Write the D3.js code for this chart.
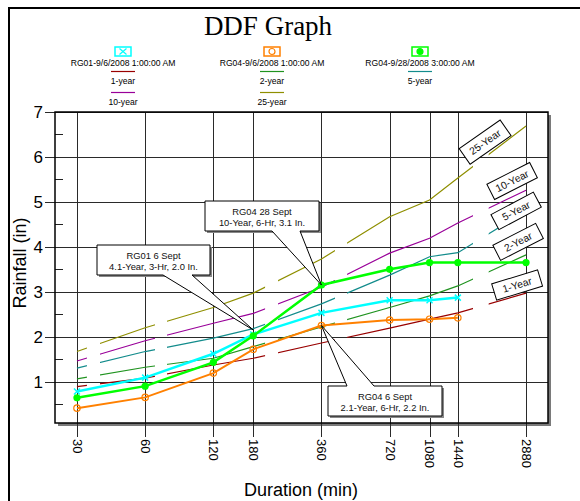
<!DOCTYPE html>
<html>
<head>
<meta charset="utf-8">
<script src="https://cdn.jsdelivr.net/npm/d3@7"></script>
<style>
  body { margin: 0; background: #fff; }
  svg { display: block; font-family: "Liberation Sans", Arial, sans-serif; }
</style>
</head>
<body>
<div id="container"></div>
<script>
// data

const durations = [30, 60, 120, 180, 360, 720, 1080, 1440, 2880];
const yTicks = [1, 2, 3, 4, 5, 6, 7];

// rainfall events
const rg01Sep6 = [0.78, 1.09, 1.62, 2.05, 2.53, 2.81, 2.81, 2.87];
const rg04Sep6 = [0.41, 0.65, 1.19, 1.72, 2.25, 2.37, 2.39, 2.42];
const rg04Sep28 = [0.64, 0.90, 1.43, 2.02, 3.15, 3.50, 3.65, 3.65, 3.65];

// return period curves (in)
const year1 = [0.89, 1.08, 1.37, 1.52, 1.86, 2.19, 2.39, 2.53, 2.97];
const year2 = [1.06, 1.32, 1.52, 1.78, 2.22, 2.65, 2.91, 3.13, 3.82];
const year5 = [1.30, 1.67, 1.97, 2.18, 2.73, 3.37, 3.78, 3.87, 4.80];
const year10 = [1.46, 1.91, 2.30, 2.52, 3.10, 3.86, 4.19, 4.53, 5.26];
const year25 = [1.67, 2.20, 2.65, 2.97, 3.73, 4.67, 5.04, 5.53, 6.69];

const eventNames = ["RG01-9/6/2008 1:00:00 AM", "RG04-9/6/2008 1:00:00 AM", "RG04-9/28/2008 3:00:00 AM"];
const periodNames = ["1-year", "2-year", "5-year", "10-year", "25-year"];
const periodLabels = ["1-Year", "2-Year", "5-Year", "10-Year", "25-Year"];

// variables

const width = 580;
const height = 501;
const plotL = 55, plotR = 548, plotT = 112, plotB = 423;

const periodColors = ["#990000", "#1f931f", "#138c8c", "#990099", "#8f8f00"];
// gaps in the dashed return-period lines (durations)
const gaps = [[33.2, 38.3], [66.3, 75.7], [203, 234], [413, 472], [1680, 1990]];

// scales

const xScale = d3.scaleLog()
  .domain([24, 3600])
  .range([plotL, plotR]);

const yScale = d3.scaleLinear()
  .domain([0.08, 7])
  .range([plotB, plotT]);

const svg = d3.select("#container")
  .append("svg")
  .attr("width", width)
  .attr("height", height);

// outer frame
svg.append("rect")
  .attr("x", 9).attr("y", 8)
  .attr("width", 640).attr("height", 640)
  .attr("fill", "#fff").attr("stroke", "#000").attr("stroke-width", 2);

// title
svg.append("text")
  .attr("x", 268).attr("y", 35)
  .attr("text-anchor", "middle")
  .style("font-family", "'Liberation Serif', 'Times New Roman', serif")
  .style("font-size", "27px")
  .text("DDF Graph");

// legend
const colX = [123, 272, 420];
const evColors = ["#00ffff", "#ff8000", "#00ff00"];
const leg = svg.append("g").style("font-size", "8.6px");

eventNames.forEach((name, i) => {
  const g = leg.append("g").attr("transform", `translate(${colX[i]},0)`);
  g.append("rect").attr("x", -8).attr("y", 47).attr("width", 16).attr("height", 9)
    .attr("fill", "#fff").attr("stroke", evColors[i]).attr("stroke-width", 1.5);
  if (i === 0) {
    g.append("path").attr("d", "M-3.5,48.5L3.5,54.5M-3.5,54.5L3.5,48.5")
      .attr("stroke", evColors[i]).attr("stroke-width", 1.2);
  } else {
    g.append("circle").attr("cx", 0).attr("cy", 51.5).attr("r", 3)
      .attr("fill", i === 2 ? evColors[i] : "none")
      .attr("stroke", evColors[i]).attr("stroke-width", 1.2);
  }
  g.append("text").attr("y", 65.5).attr("text-anchor", "middle").text(name);
});

periodNames.forEach((name, i) => {
  const col = i % 3, row = Math.floor(i / 3);
  const g = leg.append("g").attr("transform", `translate(${colX[col]},${row * 21})`);
  g.append("line").attr("x1", -12).attr("x2", 12).attr("y1", 71.5).attr("y2", 71.5)
    .attr("stroke", periodColors[i]).attr("stroke-width", 1.2);
  g.append("text").attr("y", 84).attr("text-anchor", "middle").text(name);
});

// plot background + shadow
svg.append("rect")
  .attr("x", plotL + 3).attr("y", plotT + 3)
  .attr("width", plotR - plotL).attr("height", plotB - plotT)
  .attr("fill", "#7a7a7a");
svg.append("rect")
  .attr("x", plotL).attr("y", plotT)
  .attr("width", plotR - plotL).attr("height", plotB - plotT)
  .attr("fill", "#fff");

// axes / grid

const yAxis = svg.append("g")
  .attr("transform", `translate(45,0)`)
  .call(d3.axisLeft(yScale)
    .tickValues(yTicks)
    .tickSizeInner(-(plotR - 45))
    .tickSizeOuter(0)
    .tickPadding(2)
    .tickFormat(d3.format("d")));
yAxis.select(".domain").remove();
yAxis.selectAll("line").attr("stroke", "#2a2a2a").attr("shape-rendering", "crispEdges");
yAxis.selectAll("text").style("font-size", "17px").attr("fill", "#000")
  .style("font-family", "'Liberation Sans', Arial, sans-serif");

// minor ticks
svg.append("g").selectAll("line")
  .data(d3.range(0.5, 7, 1))
  .join("line")
  .attr("x1", plotL).attr("x2", plotL + 8)
  .attr("y1", d => yScale(d)).attr("y2", d => yScale(d))
  .attr("stroke", "#222")
  .attr("shape-rendering", "crispEdges");

const xAxis = svg.append("g")
  .attr("transform", `translate(0,${plotT})`)
  .call(d3.axisBottom(xScale)
    .tickValues(durations)
    .tickSizeInner(plotB - plotT + 14)
    .tickSizeOuter(0)
    .tickFormat(d3.format("d")));
xAxis.select(".domain").remove();
xAxis.selectAll("line").attr("stroke", "#2a2a2a").attr("shape-rendering", "crispEdges");
xAxis.selectAll("text")
  .attr("transform", "rotate(90)")
  .attr("x", plotB - plotT + 16)
  .attr("y", 0)
  .attr("dy", "0.35em")
  .attr("fill", "#000")
  .style("text-anchor", "start")
  .style("font-size", "13px")
  .style("font-family", "'Liberation Sans', Arial, sans-serif");

// plot border
svg.append("rect")
  .attr("x", plotL).attr("y", plotT)
  .attr("width", plotR - plotL).attr("height", plotB - plotT)
  .attr("fill", "none").attr("stroke", "#000").attr("stroke-width", 1.5);

// axis titles
svg.append("text")
  .attr("transform", "translate(26,263) rotate(-90)")
  .attr("text-anchor", "middle")
  .style("font-size", "18px")
  .text("Rainfall (in)");
svg.append("text")
  .attr("x", 301).attr("y", 496)
  .attr("text-anchor", "middle")
  .style("font-size", "18px")
  .text("Duration (min)");

// dashed return-period lines (dashes made with a clip)
const dashStops = [30].concat(gaps.flat()).concat([2880]);
const clip = svg.append("clipPath").attr("id", "dashes");
for (let i = 0; i < dashStops.length; i += 2) {
  clip.append("rect")
    .attr("x", xScale(dashStops[i]) - 1)
    .attr("y", plotT)
    .attr("width", xScale(dashStops[i + 1]) - xScale(dashStops[i]) + (i === dashStops.length - 2 ? 2 : 1))
    .attr("height", plotB - plotT);
}

const line = d3.line()
  .x((d, i) => xScale(durations[i]))
  .y(d => yScale(d));

svg.append("g")
  .attr("clip-path", "url(#dashes)")
  .selectAll("path")
  .data([year1, year2, year5, year10, year25])
  .join("path")
  .attr("d", line)
  .attr("fill", "none")
  .attr("stroke", (d, i) => periodColors[i])
  .attr("stroke-width", 1.2);

// events
const events = [rg01Sep6, rg04Sep6, rg04Sep28];
const evWidths = [2.5, 2, 2.5];

events.forEach((vals, k) => {
  svg.append("path")
    .datum(vals)
    .attr("d", line)
    .attr("fill", "none")
    .attr("stroke", evColors[k])
    .attr("stroke-width", evWidths[k]);
  const pts = svg.append("g").selectAll("g")
    .data(vals)
    .join("g")
    .attr("transform", (d, i) => `translate(${xScale(durations[i])},${yScale(d)})`);
  if (k === 0) {
    pts.append("path").attr("d", "M-3,-3L3,3M-3,3L3,-3")
      .attr("stroke", evColors[k]).attr("stroke-width", 1.5);
  } else if (k === 1) {
    pts.append("circle").attr("r", 3.2).attr("fill", "none")
      .attr("stroke", evColors[k]).attr("stroke-width", 1.2);
  } else {
    pts.append("circle").attr("r", 3.6).attr("fill", evColors[k]);
  }
});

// return period labels
const periodAnchors = [[2630, 3.15, -17], [2657, 4.11, -27], [2604, 4.80, -28], [2500, 5.465, -27], [1900, 6.33, -35]];
periodLabels.forEach((lab, i) => {
  const [dur, v, ang] = periodAnchors[i];
  const g = svg.append("g")
    .attr("transform", `translate(${xScale(dur)},${yScale(v)}) rotate(${ang})`);
  const w = i === 4 ? 50 : 48, h = i === 4 ? 19 : 17;
  g.append("rect").attr("x", -w / 2).attr("y", -h / 2).attr("width", w).attr("height", h)
    .attr("fill", "#fff").attr("stroke", "#000").attr("stroke-width", 1);
  g.append("text").attr("text-anchor", "middle").attr("dy", "0.35em")
    .style("font-size", "10.3px").attr("fill", "#111").text(lab);
});

// callouts
const callouts = [
  { lines: ["RG01 6 Sept", "4.1-Year, 3-Hr, 2.0 In."], box: [97, 245, 113, 30], base: [163, 192], tip: [180, 2.15], below: true },
  { lines: ["RG04 28 Sept", "10-Year, 6-Hr, 3.1 In."], box: [205, 201, 114, 30], base: [272, 300], tip: [360, 3.15], below: true },
  { lines: ["RG04 6 Sept", "2.1-Year, 6-Hr, 2.2 In."], box: [328, 386, 114, 30], base: [347, 374], tip: [360, 2.25], below: false }
];

callouts.forEach(c => {
  const [bx, by, bw, bh] = c.box;
  const tx = xScale(c.tip[0]), ty = yScale(c.tip[1]);
  svg.append("rect").attr("x", bx + 2).attr("y", by + 2).attr("width", bw).attr("height", bh)
    .attr("fill", "#888");
  let pts;
  if (c.below) {
    pts = [[bx, by], [bx + bw, by], [bx + bw, by + bh], [c.base[1], by + bh], [tx, ty], [c.base[0], by + bh], [bx, by + bh]];
  } else {
    pts = [[bx, by], [c.base[0], by], [tx, ty], [c.base[1], by], [bx + bw, by], [bx + bw, by + bh], [bx, by + bh]];
  }
  svg.append("path")
    .attr("d", "M" + pts.map(p => p.join(",")).join("L") + "Z")
    .attr("fill", "#fff").attr("stroke", "#000").attr("stroke-width", 1);
  c.lines.forEach((t, j) => {
    svg.append("text")
      .attr("x", bx + bw / 2).attr("y", by + 13.5 + j * 11)
      .attr("text-anchor", "middle")
      .style("font-size", "9.4px")
      .attr("fill", "#111")
      .text(t);
  });
});
</script>
</body>
</html>
